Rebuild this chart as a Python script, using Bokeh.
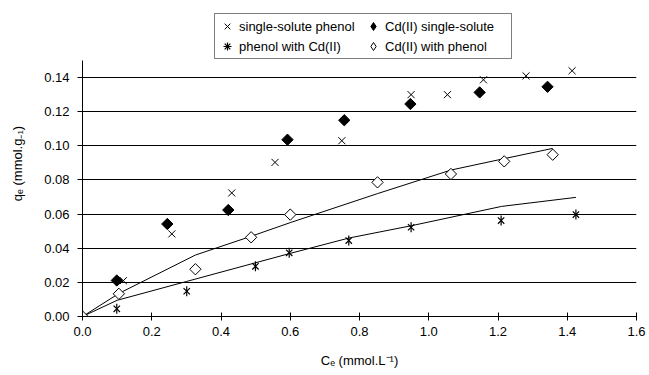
import math
from bokeh.plotting import figure
from bokeh.models import Legend, LegendItem, FixedTicker, Range1d
from bokeh.embed import file_html
from bokeh.resources import INLINE

# ---- data ----
phenol_x = [0.118, 0.258, 0.431, 0.556, 0.749, 0.949, 1.054, 1.158, 1.281, 1.414]
phenol_y = [0.021, 0.0484, 0.0724, 0.0903, 0.103, 0.130, 0.130, 0.1387, 0.141, 0.144]

cd_x = [0.099, 0.245, 0.421, 0.592, 0.756, 0.947, 1.147, 1.343]
cd_y = [0.0211, 0.0542, 0.0624, 0.1036, 0.115, 0.1245, 0.1313, 0.1346]

phenol_cd_x = [0.099, 0.301, 0.4995, 0.597, 0.769, 0.949, 1.209, 1.425]
phenol_cd_y = [0.0045, 0.0148, 0.0294, 0.0373, 0.0445, 0.0523, 0.0562, 0.0597]

cd_phenol_x = [0.0, 0.105, 0.326, 0.487, 0.600, 0.852, 1.064, 1.218, 1.358]
cd_phenol_y = [0.0, 0.0133, 0.0277, 0.0464, 0.0597, 0.0786, 0.0835, 0.0909, 0.0948]

cd_model_x = [0.0, 0.105, 0.326, 0.487, 0.600, 0.852, 1.064, 1.218, 1.358]
cd_model_y = [0.0, 0.0135, 0.036, 0.047, 0.055, 0.072, 0.0858, 0.0925, 0.0985]

phenol_model_x = [0.0, 0.10, 0.30, 0.50, 0.60, 0.77, 0.95, 1.21, 1.425]
phenol_model_y = [0.0, 0.0095, 0.0205, 0.0315, 0.037, 0.046, 0.0532, 0.0645, 0.0698]

x_ticks = [0.0, 0.2, 0.4, 0.6, 0.8, 1.0, 1.2, 1.4, 1.6]
x_tick_labels = ["0.0", "0.2", "0.4", "0.6", "0.8", "1.0", "1.2", "1.4", "1.6"]
y_ticks = [0.0, 0.02, 0.04, 0.06, 0.08, 0.10, 0.12, 0.14]
y_tick_labels = ["0.00", "0.02", "0.04", "0.06", "0.08", "0.10", "0.12", "0.14"]
y_axis_max = 0.15

labels = ["single-solute phenol", "phenol with Cd(II)", "Cd(II) single-solute", "Cd(II) with phenol"]

FONT = "Liberation Sans"

# frame extends above the axis top so the legend can sit inside it
p = figure(width=649, height=375, output_backend="svg", toolbar_location=None,
           x_range=Range1d(0, 1.6), y_range=Range1d(0, 0.1793),
           min_border_left=82, min_border_right=13, min_border_top=10, min_border_bottom=59)
p.outline_line_color = None
p.background_fill_color = "white"
p.border_fill_color = "white"

# axes
p.xaxis.ticker = FixedTicker(ticks=x_ticks)
p.xaxis.major_label_overrides = {t: l for t, l in zip(x_ticks, x_tick_labels)}
p.yaxis.ticker = FixedTicker(ticks=y_ticks)
p.yaxis.major_label_overrides = {t: l for t, l in zip(y_ticks, y_tick_labels)}
p.yaxis.bounds = (0, y_axis_max)
for ax in (p.xaxis, p.yaxis):
    ax.axis_line_color = "black"
    ax.axis_line_width = 1
    ax.major_tick_line_color = "black"
    ax.minor_tick_line_color = None
    ax.major_label_text_font = FONT
    ax.major_label_text_font_size = "13px"
    ax.major_label_text_color = "black"
    ax.axis_label_text_font = FONT
    ax.axis_label_text_font_size = "13px"
    ax.axis_label_text_font_style = "normal"
    ax.axis_label_text_color = "black"
p.xaxis.major_tick_in = 4
p.xaxis.major_tick_out = 4
p.xaxis.major_label_standoff = 6
p.xaxis.axis_label = "Cₑ (mmol.L⁻¹)"
p.xaxis.axis_label_standoff = 14
p.yaxis.major_tick_in = 0
p.yaxis.major_tick_out = 5
p.yaxis.major_label_standoff = 8
p.yaxis.axis_label = "qₑ (mmol.g₋₁)"
p.yaxis.axis_label_standoff = 16

p.xgrid.grid_line_color = None
p.ygrid.ticker = FixedTicker(ticks=y_ticks)
p.ygrid.grid_line_color = "black"
p.ygrid.grid_line_width = 1

# model lines
p.line(cd_model_x, cd_model_y, line_color="black", line_width=1)
p.line(phenol_model_x, phenol_model_y, line_color="black", line_width=1)

# markers
r_phenol = p.scatter(phenol_x, phenol_y, marker="x", size=10, line_color="black", line_width=1)
r_cd = p.scatter(cd_x, cd_y, marker="square", angle=math.pi / 4, size=8,
                 fill_color="black", line_color="black", line_width=1)
r_pcd_a = p.scatter(phenol_cd_x, phenol_cd_y, marker="x", size=9, line_color="black", line_width=1.2)
r_pcd_b = p.scatter(phenol_cd_x, phenol_cd_y, marker="dash", angle=math.pi / 2, size=10,
                    line_color="black", line_width=1.2)
r_cdp = p.scatter(cd_phenol_x, cd_phenol_y, marker="square", angle=math.pi / 4, size=8,
                  fill_color="white", line_color="black", line_width=1)

# legend-only glyphs: same data drawn at size 0 (the legend sizes its own markers, unrotated)
lg_pcd = p.scatter(phenol_cd_x, phenol_cd_y, marker="asterisk", size=0, line_color="black", line_width=1.2)
lg_cd = p.scatter(cd_x, cd_y, marker="diamond", size=0, fill_color="black", line_color="black")
lg_cdp = p.scatter(cd_phenol_x, cd_phenol_y, marker="diamond", size=0, fill_color="white", line_color="black")

legend = Legend(items=[
    LegendItem(label=labels[0], renderers=[r_phenol]),
    LegendItem(label=labels[1], renderers=[lg_pcd]),
    LegendItem(label=labels[2], renderers=[lg_cd]),
    LegendItem(label=labels[3], renderers=[lg_cdp]),
], ncols=2, location=(132, 257))
legend.border_line_color = "black"
legend.border_line_width = 1
legend.background_fill_color = "white"
legend.background_fill_alpha = 1
legend.padding = 2
legend.margin = 0
legend.spacing = 0
legend.glyph_width = 20
legend.glyph_height = 20
legend.label_standoff = 2
legend.label_width = 124
legend.label_text_font = FONT
legend.label_text_font_size = "13px"
legend.label_text_color = "black"
legend.label_height = 20
p.add_layout(legend, "center")

open("out.html", "w").write(file_html(p, INLINE))
